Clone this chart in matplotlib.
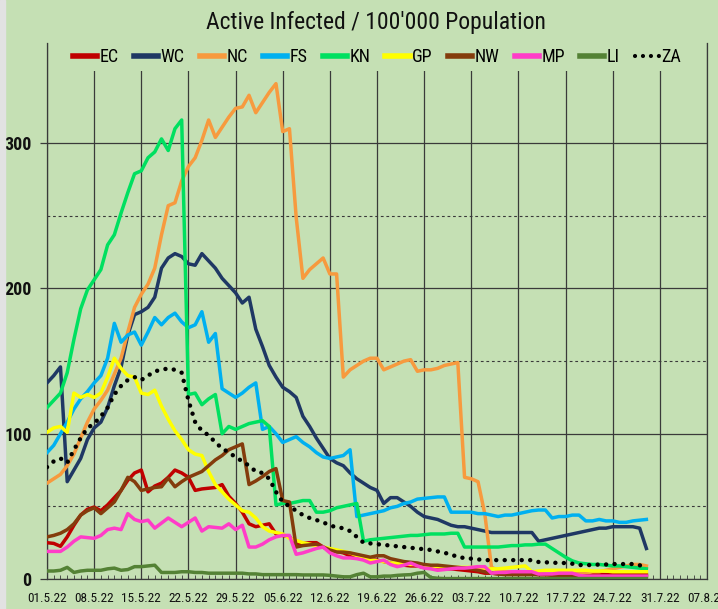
import numpy as np
import pandas as pd
import matplotlib
matplotlib.use("Agg")
import matplotlib.pyplot as plt
from matplotlib.ticker import FixedLocator
from matplotlib.patches import Rectangle
from matplotlib import font_manager as fm
import matplotlib.dates as mdates

# ---------------- data ----------------
dates = pd.date_range("2022-05-01", periods=90, freq="D")

EC = [25, 24.5, 22.5, 29, 37, 44, 48, 49.5, 47, 51,
      56, 61, 68, 73, 75, 60, 64, 66, 70, 75,
      73, 70, 61, 62, 62.5, 63, 65, 57, 52, 46,
      38, 36, 37, 38, 31, 30, 29, 24, 24.5, 25,
      25, 22, 20, 19, 18, 16, 15, 14, 13, 13,
      12, 11, 10, 9.5, 9, 9, 8, 8, 7.5, 7,
      7, 6.5, 6, 5.5, 5, 4, 4, 3.5, 3.5, 3.5,
      3.5, 3.5, 3.5, 3, 3, 3, 3, 3, 3, 3,
      3, 3, 3, 3, 3, 3, 3, 3, 3, 3]

WC = [135, 140, 146, 67, 75, 83, 96, 104, 108, 118,
      133, 146, 168, 182, 184, 187, 194, 214, 221, 224,
      222, 217, 216, 224, 219, 214, 207, 202, 197, 190,
      194, 172, 160, 147, 139, 132, 129, 125, 112, 105,
      97, 90, 83, 80, 78, 73, 69, 66, 63, 61,
      52, 56, 56, 53, 50, 46, 43, 42, 41, 39,
      37, 36, 36, 35, 34, 33, 32, 32, 32, 32,
      32, 32, 32, 26, 27, 28, 29, 30, 31, 32,
      33, 34, 35, 35, 36, 36, 36, 36, 35, 21]

NC = [66, 69, 72, 78, 86, 97, 108, 117, 123, 130,
      141, 152, 170, 187, 196, 203, 214, 237, 257, 259,
      274, 284, 290, 302, 316, 304, 311, 318, 324, 325,
      333, 321, 328, 335, 341, 308, 310, 249, 207, 213,
      217, 221, 210, 210, 139, 144, 147, 150, 152, 152,
      144, 146, 148, 150, 151, 143, 144, 144, 145, 147,
      148, 149, 70, 69, 67, 45, 8, 6, 5, 5,
      4, 4, 4, 4, 3, 3, 3, 3, 4, 4,
      4, 5, 5, 6, 7, 8, 9, 10, 10, 9]

FS = [87, 92, 100, 108, 117, 124, 129, 135, 140, 152,
      176, 163, 168, 170, 161, 170, 180, 175, 180, 183,
      177, 173, 175, 184, 163, 169, 131, 128, 125, 128,
      132, 135, 103, 105, 100, 94, 96, 98, 94, 91,
      87, 84, 83, 84, 85, 89, 43, 44, 45, 46,
      47, 49, 50, 52, 53, 55, 55.5, 56, 56.5, 56.5,
      46, 46, 46, 46, 45, 45, 44, 43, 44, 44,
      45, 46, 47, 47.5, 47.5, 42, 43, 43, 44, 44,
      40, 40, 41, 40, 40, 39, 39, 40, 40.5, 41]

KN = [118, 123, 128, 142, 165, 186, 199, 206, 213, 230,
      237, 252, 266, 279, 281, 290, 294, 303, 295, 310,
      316, 127, 128, 120, 124, 127, 100, 105, 103, 105,
      107, 108, 109, 105, 51, 52, 52, 53, 54, 54,
      46, 46, 47, 49, 50, 51, 52, 26, 27, 27.5,
      28, 28.5, 29, 29.5, 30, 30, 30.5, 31, 31, 31,
      31.5, 31.5, 22, 22, 22, 22, 22, 22, 22.5, 23,
      23, 23.5, 23.5, 24, 24, 21, 18, 15, 12.5, 11,
      10.5, 10, 10, 9.5, 9, 9, 8.5, 8, 7.5, 7]

GP = [101, 104, 105, 101, 128, 125, 127, 125, 128, 139,
      152, 145, 140, 139, 128, 127, 130, 119, 110, 102,
      96, 89, 86, 85, 74, 65, 60, 55, 51, 47,
      46, 42, 36, 33, 32, 31, 28, 26.5, 25, 24,
      23, 22, 21, 20, 19, 18, 16, 15, 13, 12.5,
      12, 11, 11, 10.5, 10, 10, 9.5, 9, 8.5, 8.5,
      8, 8, 8, 8, 8, 7, 7, 7, 7.5, 8,
      8.5, 9, 5, 5.5, 6, 6, 6, 6, 6, 6,
      6, 5.5, 5.5, 5.5, 5, 5, 5, 5, 5, 5]

NW = [29, 30, 31.5, 34, 38, 44, 47, 49, 45, 49,
      53, 61, 70, 67, 61, 62, 63, 63.5, 69.5, 63.5,
      67, 70, 72, 74, 78, 82, 85, 89, 91, 93,
      65, 67.5, 70.5, 74, 76, 54, 53, 22, 23, 23.5,
      24, 22, 20, 18.6, 18.5, 18, 17, 16, 15, 16,
      16, 14, 13, 12, 11.5, 11, 10, 9.5, 9.5, 9,
      8.5, 8, 7.5, 7, 6, 5, 4, 3.5, 3, 3,
      3, 3, 3, 3, 3, 2.5, 2.5, 2.5, 2.5, 2,
      2, 2, 2, 2, 2, 2, 2, 2, 2, 2]

MP = [19, 19, 19, 22, 26, 29, 28.5, 28, 30, 34,
      35, 34, 45, 41, 39.5, 40.5, 35, 38.5, 42, 39,
      36, 39, 42, 33, 36, 35.5, 35, 38, 34, 37,
      22, 22, 24, 27, 29, 30, 30, 17, 18, 19.5,
      21, 22, 18, 16, 14.5, 14.5, 14, 13, 11, 12,
      13, 10, 8.5, 9.5, 11, 9, 7.5, 7, 6, 6.5,
      7, 7.5, 7.5, 8, 8.5, 8.5, 4, 4.5, 4.5, 5,
      5, 5, 5, 3.4, 3.5, 3.5, 4, 4, 4, 2.5,
      2, 2, 2, 2, 2, 2, 2, 2, 2, 2]

LI = [5.5, 5.5, 6, 8, 4.5, 5.5, 6, 6, 6, 7,
      7.5, 6, 6.5, 8.5, 8.5, 9, 9.5, 4.5, 4.5, 4.5,
      5, 5, 4.5, 4.5, 4, 4, 4, 4, 4, 4,
      3.5, 3.5, 3, 3, 3, 3, 3, 3, 2.8, 2.8,
      2.8, 2.8, 2.5, 2, 1.5, 1.5, 3, 4, 1.5, 1.5,
      2, 2, 2.5, 2.8, 3, 4, 4.5, 1, 0.5, 0.3,
      0.3, 0.3, 0.3, 0.3, 0.3, 0.3, 0.3, 0.3, 0.3, 0.3,
      0.3, 0.3, 0.3, 0.3, 0.3, 0.3, 0.3, 0.3, 0.3, 0.3,
      0.3, 0.3, 0.3, 0.3, 0.3, 0.3, 0.3, 0.3, 0.3, 0.3]

ZA = [77, 81, 83, 80, 89, 97, 104, 107, 112, 118,
      127, 133, 137, 139, 137, 140, 143, 144, 145, 144,
      142, 123, 108, 102, 99, 94, 90, 87, 84, 81,
      78, 74, 73, 69, 60, 53, 50, 47, 44, 42,
      40.6, 39, 37, 35.5, 35, 33, 29, 25, 24.5, 24,
      23.5, 23, 22.5, 22, 21.5, 21, 20.5, 20, 19, 18,
      17, 15, 14.5, 14, 13.5, 13, 13, 13, 13, 13,
      13, 13, 13, 11.7, 11.5, 11.3, 11, 11, 10.5, 9.6,
      9.6, 9.6, 10, 10, 10.3, 10.3, 10.3, 10.3, 9.5, 7]

series_names = ["EC", "WC", "NC", "FS", "KN", "GP", "NW", "MP", "LI", "ZA"]
series_values = [EC, WC, NC, FS, KN, GP, NW, MP, LI, ZA]
series_colors = ["#C00000", "#1F3864", "#F79A3E", "#00B0F0", "#00E060",
                 "#FFFF00", "#843C0C", "#FF3CC8", "#548235", "#000000"]

tick_dates = pd.date_range("2022-05-01", "2022-08-07", freq="7D")
tick_labels = ["01.5.22", "08.5.22", "15.5.22", "22.5.22", "29.5.22",
               "05.6.22", "12.6.22", "19.6.22", "26.6.22", "03.7.22",
               "10.7.22", "17.7.22", "24.7.22", "31.7.22", "07.8.22"]
y_ticks = [0, 100, 200, 300]
title = "Active Infected / 100'000 Population"

# ---------------- font: pick a narrow face if one is installed ----------------
def _is_narrow(f):
    st = f.stretch
    if isinstance(st, str):
        return st in ("condensed", "semi-condensed", "extra-condensed",
                      "ultra-condensed")
    try:
        return int(st) < 500
    except Exception:
        return False

_fonts = fm.fontManager.ttflist
_names = {f.name for f in _fonts}
FAMILY = None
STRETCH = "normal"
for pref in ["Liberation Sans Narrow", "Roboto Condensed", "Open Sans Condensed",
             "Noto Sans Condensed", "DejaVu Sans Condensed", "Arial Narrow"]:
    if pref in _names:
        FAMILY = pref
        break
if FAMILY is None:
    for pref in ["Roboto", "Noto Sans", "Open Sans", "DejaVu Sans", "Liberation Sans"]:
        if any(f.name == pref and _is_narrow(f) for f in _fonts):
            FAMILY = pref
            STRETCH = "condensed"
            break
NARROW = FAMILY is not None
if FAMILY is None:
    FAMILY = "Roboto" if "Roboto" in _names else "DejaVu Sans"

plt.rcParams["font.family"] = [FAMILY, "DejaVu Sans"]
plt.rcParams["font.stretch"] = STRETCH
k = 1.0 if NARROW else 0.82   # shrink text if only wide faces exist

# ---------------- style ----------------
BG = "#C5E0B4"
GRID = "#3A3A3A"

W, H = 718, 609
fig = plt.figure(figsize=(W / 100, H / 100), dpi=100, facecolor=BG)
fig.patches.append(Rectangle((0, 0), 5 / W, 1, transform=fig.transFigure,
                             color="#E2E2E2", zorder=0))
ax = fig.add_axes([47 / W, 30 / H, 660 / W, 536 / H])
ax.set_facecolor(BG)

for name, vals, col in zip(series_names, series_values, series_colors):
    if name == "ZA":
        ax.plot(dates, vals, color=col, lw=3.2, linestyle=(0, (0.01, 1.9)),
                dash_capstyle="round", label=name, zorder=3)
    else:
        ax.plot(dates, vals, color=col, lw=2.5, label=name, zorder=3)

ax.set_xlim(pd.Timestamp("2022-05-01"), pd.Timestamp("2022-08-07"))
ax.set_ylim(0, 369)

ax.xaxis.set_major_locator(FixedLocator(mdates.date2num(tick_dates)))
ax.set_xticklabels(tick_labels, fontsize=9.5 * k)
ax.xaxis.set_minor_locator(mdates.DayLocator())
ax.yaxis.set_major_locator(FixedLocator(y_ticks))
ax.set_yticklabels([str(v) for v in y_ticks], fontsize=13 * k, fontweight="bold")
ax.yaxis.set_minor_locator(FixedLocator([50, 150, 250]))

ax.grid(True, which="major", axis="both", color=GRID, lw=0.9, zorder=1)
ax.grid(True, which="minor", axis="y", color=GRID, lw=0.8,
        linestyle=(0, (2.5, 2.5)), zorder=1)
ax.set_axisbelow(True)

ax.tick_params(axis="x", which="major", length=0, pad=9, colors="#111111")
ax.tick_params(axis="x", which="minor", direction="in", length=3, width=0.6,
               color=GRID)
ax.tick_params(axis="y", which="major", length=5, width=0.9, color=GRID,
               pad=6, colors="#111111")
ax.tick_params(axis="y", which="minor", length=0)

for s in ["left", "bottom", "right"]:
    ax.spines[s].set_color(GRID)
    ax.spines[s].set_linewidth(0.9)
ax.spines["top"].set_visible(False)

leg = ax.legend(loc="center", bbox_to_anchor=(0.5, (579 - 57) / 536), ncol=10,
                frameon=True, facecolor=BG, edgecolor="none", framealpha=1,
                fontsize=13 * k, handlelength=1.35, handletextpad=0.12,
                columnspacing=0.85, borderpad=0.25, fancybox=False)
for h in leg.get_lines():
    h.set_linewidth(3 if h.get_label() == "ZA" else 4)

fig.text(376 / W, 1 - 23 / H, title, ha="center", va="center",
         fontsize=17 * k, color="#111111")

fig.savefig("out.png", dpi=100, facecolor=BG)
